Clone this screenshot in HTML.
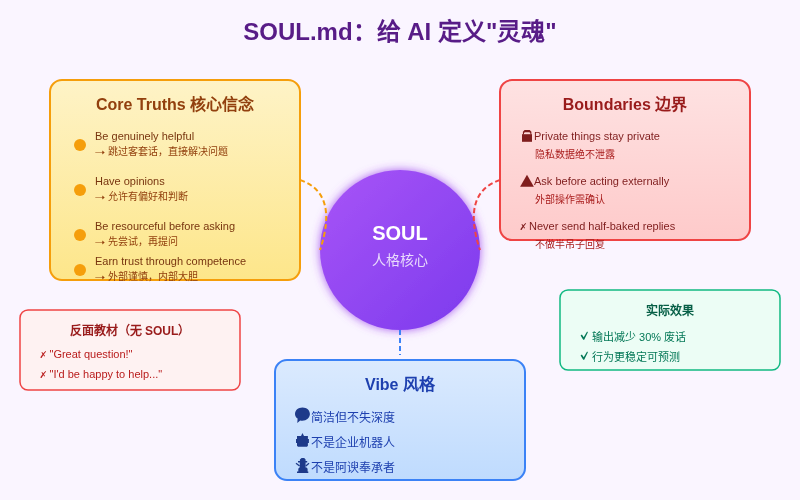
<!DOCTYPE html>
<html lang="zh-CN"><head><meta charset="utf-8">
<style>
html,body{margin:0;padding:0;background:#faf5ff;width:800px;height:500px;overflow:hidden}
svg{display:block;will-change:transform}
text{font-family:"Liberation Sans",sans-serif}
</style></head><body>
<svg width="800" height="500" viewBox="0 0 800 500">
<defs>
<linearGradient id="gy" x1="0" y1="0" x2="0" y2="1"><stop offset="0" stop-color="#fef3c7"/><stop offset="1" stop-color="#fde68a"/></linearGradient>
<linearGradient id="gr" x1="0" y1="0" x2="0" y2="1"><stop offset="0" stop-color="#fee2e2"/><stop offset="1" stop-color="#fecaca"/></linearGradient>
<linearGradient id="gb" x1="0" y1="0" x2="0" y2="1"><stop offset="0" stop-color="#dbeafe"/><stop offset="1" stop-color="#bfdbfe"/></linearGradient>
<linearGradient id="gp" x1="0" y1="0" x2="1" y2="1"><stop offset="0" stop-color="#a855f7"/><stop offset="1" stop-color="#7c3aed"/></linearGradient>
<filter id="glow" x="-30%" y="-30%" width="160%" height="160%"><feGaussianBlur in="SourceAlpha" stdDeviation="5" result="b"/><feFlood flood-color="#9333ea" flood-opacity="0.8"/><feComposite operator="in" in2="b"/><feMerge><feMergeNode/><feMergeNode in="SourceGraphic"/></feMerge></filter>
</defs>
<rect width="800" height="500" fill="#faf5ff"/>
<text x="400" y="40" text-anchor="middle" font-size="24" font-weight="bold" fill="#581c87">SOUL.md：给 AI 定义"灵魂"</text>

<!-- Core Truths -->
<rect x="50" y="80" width="250" height="200" rx="12" fill="url(#gy)" stroke="#f59e0b" stroke-width="2"/>
<text x="175" y="110" text-anchor="middle" font-size="16" font-weight="bold" fill="#92400e">Core Truths 核心信念</text>
<g fill="#f59e0b"><circle cx="80" cy="145" r="6"/><circle cx="80" cy="190" r="6"/><circle cx="80" cy="235" r="6"/><circle cx="80" cy="270" r="6"/></g>
<g font-size="11" fill="#78350f">
<text x="95" y="140">Be genuinely helpful</text>
<text x="95" y="185">Have opinions</text>
<text x="95" y="230">Be resourceful before asking</text>
<text x="95" y="265">Earn trust through competence</text>
</g>
<g font-size="10" fill="#92400e">
<text x="107.5" y="155">跳过客套话，直接解决问题</text>
<text x="107.5" y="200">允许有偏好和判断</text>
<text x="107.5" y="245">先尝试，再提问</text>
<text x="107.5" y="280">外部谨慎，内部大胆</text>
</g>
<g fill="#92400e" stroke="none">
<path id="arr" d="M95.3 152.15h7.5v0.7h-7.5z M102.3 150.6 L104.7 152.5 L102.3 154.4z"/>
<use href="#arr" y="45"/><use href="#arr" y="90"/><use href="#arr" y="125"/>
</g>

<!-- Boundaries -->
<rect x="500" y="80" width="250" height="160" rx="12" fill="url(#gr)" stroke="#ef4444" stroke-width="2"/>
<text x="625" y="110" text-anchor="middle" font-size="16" font-weight="bold" fill="#991b1b">Boundaries 边界</text>
<g font-size="11" fill="#7f1d1d">
<text x="534" y="140">Private things stay private</text>
<text x="534" y="185">Ask before acting externally</text>
<text x="529" y="230">Never send half-baked replies</text>
</g>
<g font-size="10" fill="#a91d1d">
<text x="535" y="158">隐私数据绝不泄露</text>
<text x="535" y="203">外部操作需确认</text>
<text x="535" y="248">不做半吊子回复</text>
</g>
<g fill="#7f1d1d">
<rect x="522" y="134.2" width="10" height="7.6"/>
<path d="M522.9 134.5V131.7L524.6 129.9H529.7L531.4 131.7V134.5H530.3V133L529.4 132.2H524.9L524 133V134.5Z"/>
<path d="M527 174.8L533.9 186.8H520.1Z"/>
<path d="M520.2 229.4Q522.6 225.6 525.5 223L526.1 223.6Q523.6 226.4 521.6 230.1ZM521.4 224.4L522.2 223.9Q523.8 226.1 525.1 228.1L524.4 228.6Q523 226.6 521.4 224.4Z"/>
</g>


<!-- SOUL circle -->
<circle cx="400" cy="250" r="80" fill="url(#gp)" filter="url(#glow)"/>
<text x="400" y="240" text-anchor="middle" font-size="20" font-weight="bold" fill="#fff">SOUL</text>
<text x="400" y="265" text-anchor="middle" font-size="14" fill="#fff" fill-opacity="0.8">人格核心</text>

<path d="M300 180Q339 193 320 250" fill="none" stroke="#f59e0b" stroke-width="2" stroke-dasharray="5,3"/>
<path d="M500 180Q461 193 480 250" fill="none" stroke="#ef4444" stroke-width="2" stroke-dasharray="5,3"/>

<path d="M400 330V355" fill="none" stroke="#3b82f6" stroke-width="2" stroke-dasharray="5,3"/>

<!-- Anti -->
<rect x="20" y="310" width="220" height="80" rx="8" fill="#fef2f2" stroke="#ef4444" stroke-width="1.5"/>
<text x="130" y="335" text-anchor="middle" font-size="12" font-weight="bold" fill="#991b1b">反面教材（无 SOUL）</text>
<g font-size="11" fill="#b91c1c">
<text x="49.5" y="358">"Great question!"</text>
<text x="49.5" y="378">"I'd be happy to help..."</text>
</g>
<path id="xm" d="M40.2 357.4Q42.6 353.6 45.5 351L46.1 351.6Q43.6 354.4 41.6 358.1ZM41.4 352.4L42.2 351.9Q43.8 354.1 45.1 356.1L44.4 356.6Q43 354.6 41.4 352.4Z" fill="#b91c1c"/>
<use href="#xm" y="20"/>

<!-- effect -->
<rect x="560" y="290" width="220" height="80" rx="8" fill="#ecfdf5" stroke="#10b981" stroke-width="1.5"/>
<text x="670" y="315" text-anchor="middle" font-size="12" font-weight="bold" fill="#065f46">实际效果</text>
<g font-size="11" fill="#047857">
<text x="592" y="340.5">输出减少 30% 废话</text>
<text x="592" y="360.5">行为更稳定可预测</text>
</g>
<path id="ck" d="M580.6 335.4L581.9 334.5L583.7 337.3L587.1 331.6L587.9 332.2L584.2 339.7H583.2Z" fill="#047857"/>
<use href="#ck" y="20"/>

<!-- Vibe -->
<rect x="275" y="360" width="250" height="120" rx="12" fill="url(#gb)" stroke="#3b82f6" stroke-width="2"/>
<text x="400" y="390" text-anchor="middle" font-size="16" font-weight="bold" fill="#1e40af">Vibe 风格</text>
<g font-size="12" fill="#1e40af">
<text x="311" y="421.5">简洁但不失深度</text>
<text x="311" y="446.5">不是企业机器人</text>
<text x="311" y="471.5">不是阿谀奉承者</text>
</g>
<g fill="#1e3a8a">
<path d="M302.5 407.5C306.8 407.5 309.9 410.3 309.9 414C309.9 417.7 306.6 420.7 302.3 420.7C301.6 420.7 300.9 420.6 300.2 420.4L297.3 422.9L297.6 418.6C295.9 417.4 295 415.8 295 414C295 410.3 298.2 407.5 302.5 407.5Z"/>
<path d="M302.5 433L304 436H307.9V439H308.9V443H307.9V445.8L307 446.7H298L297 445.8V443H296V439H297V436H301Z"/>
<path d="M301.6 458H304.2L305.6 459.4V461H307.2V462.4H298V461H299.9V459.4ZM299.8 462.4H305.6V467.5H306.6L307.6 468.8V471.6H308.3V473.1H297V471.6H298.3V468.8L299.3 467.5H299.8Z"/>
<path d="M296 463.3L299.6 466M309 463.3L305.8 466" fill="none" stroke="#1e3a8a" stroke-width="1.3"/>
</g>
</svg>
</body></html>
